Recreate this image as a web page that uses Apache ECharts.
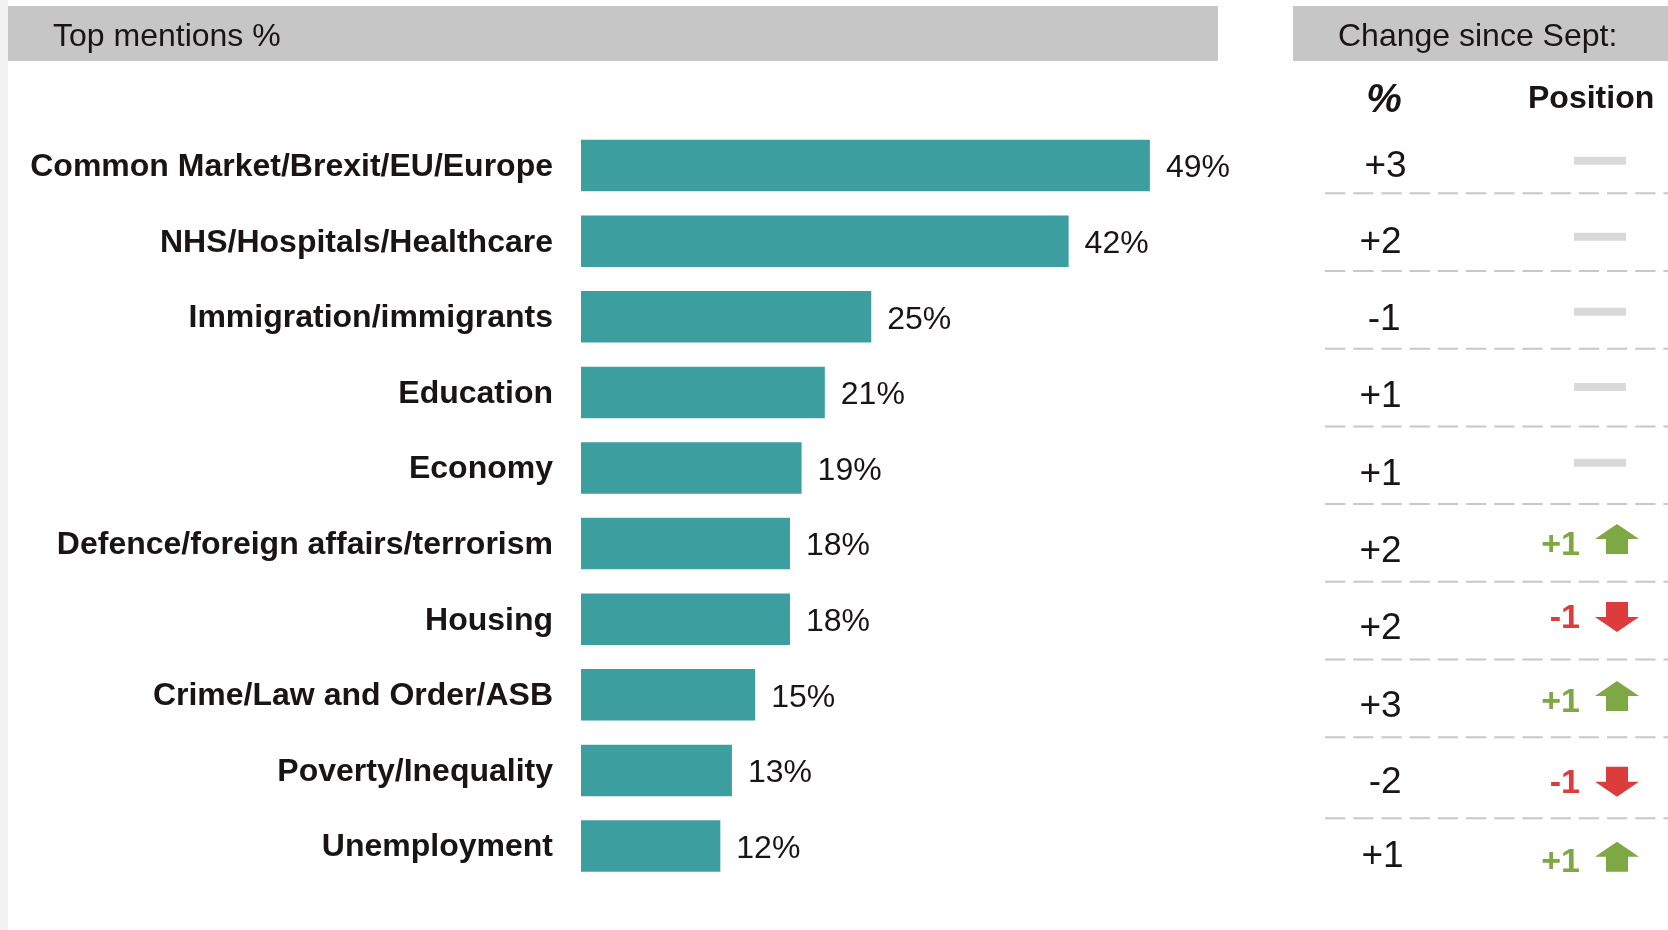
<!DOCTYPE html>
<html><head><meta charset="utf-8">
<style>html,body{margin:0;padding:0;background:#fff}#c{width:1668px;height:930px}</style>
<script src="https://cdn.jsdelivr.net/npm/echarts@6/dist/echarts.min.js"></script>
</head><body><div id="c"></div>
<script>
const categories = ['Common Market/Brexit/EU/Europe','NHS/Hospitals/Healthcare','Immigration/immigrants','Education','Economy','Defence/foreign affairs/terrorism','Housing','Crime/Law and Order/ASB','Poverty/Inequality','Unemployment'];
const mentions = [49,42,25,21,19,18,18,15,13,12];
const pctChange = ['+3','+2','-1','+1','+1','+2','+2','+3','-2','+1'];
const positionChange = [0,0,0,0,0,1,-1,1,-1,1];

// hand-set table layout: the source table's rows are not evenly spaced
const pctNudge = [[5,12.5],[0,11],[-1,9.5],[0,9.5],[0,10],[0,9],[0,8],[0,8],[0,7],[2,3]];
const markNudge = [6.4,4.6,2,-0.5,-2.5,-4,-3.6,-2.3,5.6,3];
const labelNudge = [0,0,0,0,0,2.7,-2,4.6,8,9];
const ruleNudge = [0,0,0,0,0,0,0,0,3.4];

const INK='#1a1414', TEAL='#3c9e9f', GREEN='#7ea843', RED='#dc3c3c', DASH='#d9d9d9', RULE='#c8c8c8', HEAD='#c6c6c6';
const FONT='"Liberation Sans", Arial, sans-serif';
const COL_PCT=76.7, COL_LABEL=255, COL_ARROW=292, COL_DASH=275;

function renderRow(params, api){
  const i=params.dataIndex;
  const at=x=>api.coord([x,i]);
  const kids=[];
  const p=at(COL_PCT);
  kids.push({type:'text',style:{text:pctChange[i],x:p[0]+pctNudge[i][0],y:p[1]+pctNudge[i][1],align:'right',verticalAlign:'middle',font:'37px '+FONT,fill:INK}});
  const v=positionChange[i];
  if(v===0){
    const d=at(COL_DASH);
    kids.push({type:'rect',shape:{x:d[0]-26,y:d[1]+markNudge[i]-4,width:52,height:8},style:{fill:DASH}});
  } else {
    const c=at(COL_ARROW), y=c[1]+markNudge[i], s=v>0?1:-1, col=v>0?GREEN:RED;
    const pts=[[0,-15],[22,0],[11,0],[11,15],[-11,15],[-11,0],[-22,0]].map(q=>[c[0]+q[0],y+s*q[1]]);
    kids.push({type:'polygon',shape:{points:pts},style:{fill:col}});
    const l=at(COL_LABEL);
    kids.push({type:'text',style:{text:(v>0?'+':'')+v,x:l[0],y:c[1]+labelNudge[i],align:'right',verticalAlign:'middle',font:'bold 34px '+FONT,fill:col}});
  }
  return {type:'group',children:kids};
}
function renderRule(params, api){
  const i=params.dataIndex;
  const a=api.coord([0,i]), b=api.coord([343,i]);
  const y=a[1]+api.size([0,1])[1]/2+ruleNudge[i];
  return {type:'line',shape:{x1:a[0],y1:y,x2:b[0],y2:y},style:{stroke:RULE,lineWidth:2,lineDash:[20.3,7.9]}};
}
const txt=(text,x,y,font,extra)=>({type:'text',silent:true,style:Object.assign({text,x,y,font:font+' '+FONT,fill:INK,verticalAlign:'middle'},extra||{})});

const chart=echarts.init(document.getElementById('c'),null,{renderer:'canvas'});
chart.setOption({
  animation:false,backgroundColor:'#fff',
  graphic:[
    {type:'rect',z:-1,shape:{x:0,y:0,width:8,height:930},style:{fill:'#f2f2f2'}},
    {type:'rect',z:-1,shape:{x:8,y:6,width:1210,height:55},style:{fill:HEAD}},
    {type:'rect',z:-1,shape:{x:1293,y:6,width:375,height:55},style:{fill:HEAD}},
    txt('Top mentions %',53,37,'32px'),
    txt('Change since Sept:',1338,37,'32px'),
    txt('%',1384,101,'italic bold 40px',{align:'center'}),
    txt('Position',1528,99,'bold 32px')
  ],
  grid:[
    {left:581,top:127.8,width:580.5,height:756},
    {left:1325,top:115.6,width:343,height:777}
  ],
  xAxis:[
    {gridIndex:0,type:'value',min:0,max:50,show:false},
    {gridIndex:1,type:'value',min:0,max:343,show:false}
  ],
  yAxis:[
    {gridIndex:0,type:'category',inverse:true,data:categories,axisLine:{show:false},axisTick:{show:false},
     axisLabel:{margin:28,interval:0,formatter:v=>'{n|'+v+'}',
       rich:{n:{fontFamily:FONT,fontWeight:'bold',fontSize:32,color:INK,padding:[3,0,0,0]}}}},
    {gridIndex:1,type:'category',inverse:true,data:pctChange.map((_,i)=>i),show:false}
  ],
  series:[
    {type:'bar',xAxisIndex:0,yAxisIndex:0,data:mentions,barWidth:51.5,itemStyle:{color:TEAL},
     label:{show:true,position:'right',distance:16,formatter:'{c}%',fontFamily:FONT,fontSize:32,color:INK,offset:[0,3]}},
    {type:'custom',xAxisIndex:1,yAxisIndex:1,data:ruleNudge.map((_,i)=>[0,i]),encode:{x:0,y:1},renderItem:renderRule,clip:false,silent:true},
    {type:'custom',xAxisIndex:1,yAxisIndex:1,data:pctChange.map((_,i)=>[0,i]),encode:{x:0,y:1},renderItem:renderRow,clip:false,silent:true}
  ]
});
</script></body></html>
